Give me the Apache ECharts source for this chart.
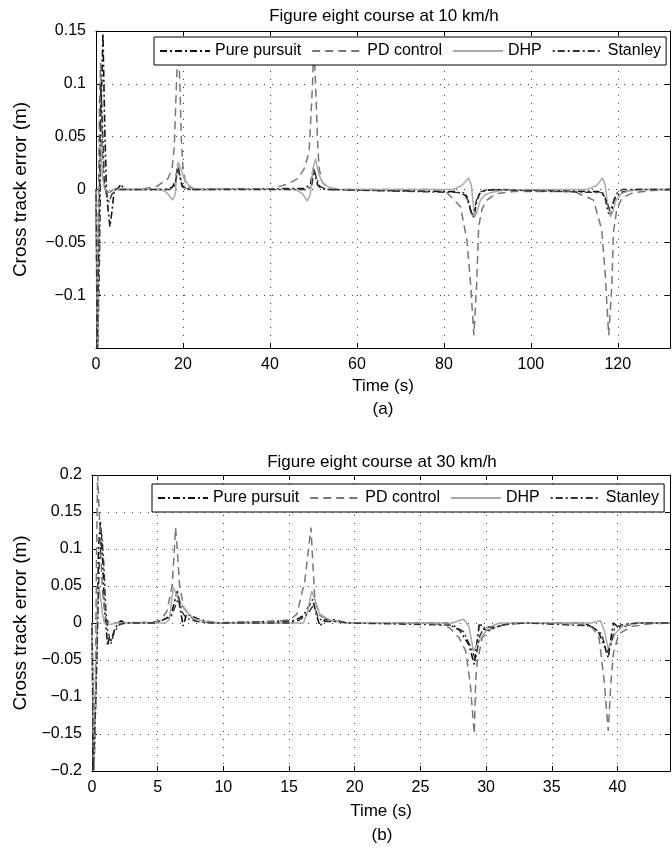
<!DOCTYPE html>
<html><head><meta charset="utf-8">
<script src="https://cdn.jsdelivr.net/npm/echarts@6/dist/echarts.min.js"></script>
<style>html,body{margin:0;padding:0;background:#fff}#c{width:672px;height:854px}</style>
</head><body><div id="c"></div>
<script>
// ---------- data ----------
const seriesNames = ['Pure pursuit', 'PD control', 'DHP', 'Stanley'];
const titleA = 'Figure eight course at 10 km/h';
const titleB = 'Figure eight course at 30 km/h';
const xNameText = 'Time (s)';
const yNameText = 'Cross track error (m)';
const captionA = '(a)';
const captionB = '(b)';

// axis ranges / tick steps
const xRangeA = [0, 132], xStepA = 20;
const yRangeA = [-0.15, 0.15], yStepA = 0.05;
const xRangeB = [0, 44], xStepB = 5;
const yRangeB = [-0.2, 0.2], yStepB = 0.05;

// (a) 10 km/h : [time s, error m]
const pureA = [[0,0],[0.4,-0.15],[0.8,-0.06],[1.2,0.08],[1.6,0.148],[2.0,0.06],[2.4,0],[2.8,-0.02],[3.2,-0.035],[3.7,-0.02],[4.2,0],[5.0,0.001],[5.8,0.005],[6.3,0.001],[7,0],[16,0],[17.5,0.002],[18.3,0.008],[18.8,0.024],[19.3,0.012],[19.8,0.003],[20.5,0.001],[22,0],[48,0.001],[49.3,0.005],[50,0.02],[50.5,0.012],[51,0.004],[51.8,0.001],[53,0],[83,-0.002],[85.2,-0.006],[86.3,-0.022],[86.9,-0.026],[87.5,-0.012],[88.2,-0.004],[89.5,-0.001],[92,0],[115.5,-0.002],[117,-0.006],[117.8,-0.022],[118.4,-0.024],[119.1,-0.01],[120.5,-0.003],[124,0],[132,0]];
const pdA = [[0,0],[0.25,-0.15],[0.5,-0.03],[0.8,0.08],[1.05,0.12],[1.3,0.07],[1.6,0.02],[2.0,0],[2.6,-0.003],[3.5,-0.002],[5,0],[10,0],[14,0.003],[16.5,0.01],[17.5,0.02],[18.0,0.04],[18.5,0.1],[18.9,0.14],[19.3,0.1],[19.6,0.05],[20.0,0.02],[20.6,0.006],[21.5,0.002],[23,0],[40,0.0005],[44,0.005],[46.3,0.01],[47.8,0.019],[49.0,0.035],[49.4,0.067],[49.8,0.1],[50.1,0.14],[50.5,0.1],[50.9,0.05],[51.3,0.02],[52,0.007],[53.2,0.002],[56,0],[78,0],[80.7,-0.003],[83.8,-0.016],[85.3,-0.048],[86.1,-0.087],[86.9,-0.138],[87.5,-0.093],[88.0,-0.035],[88.8,-0.018],[89.9,-0.01],[92,-0.004],[96,-0.002],[110,-0.002],[114.4,-0.01],[116.3,-0.038],[117.1,-0.08],[117.9,-0.138],[118.6,-0.093],[119.0,-0.04],[119.8,-0.018],[121,-0.008],[123.5,-0.003],[128,-0.001],[132,0]];
const dhpA = [[0,0],[0.4,-0.15],[0.7,-0.02],[1.0,0.045],[1.2,0.035],[1.5,0.012],[1.9,0.002],[2.5,-0.003],[3.2,-0.001],[4.5,0],[15,0],[16.3,-0.003],[17.6,-0.01],[18.2,-0.005],[18.6,0.015],[18.9,0.026],[19.5,0.02],[20.3,0.01],[21.3,0.004],[22.5,0.001],[25,0],[45.9,0],[47.5,-0.004],[48.6,-0.011],[49.3,-0.004],[49.9,0.02],[50.5,0.029],[51.2,0.015],[52,0.007],[53.2,0.003],[55,0],[82.2,0],[84.2,0.004],[85.7,0.011],[86.3,0.004],[86.7,-0.012],[87.1,-0.026],[87.7,-0.02],[88.4,-0.01],[89.5,-0.005],[90.7,-0.003],[93,-0.001],[100,0],[113,0],[115.2,0.004],[116.5,0.011],[117.1,0.004],[117.6,-0.012],[118.3,-0.026],[118.9,-0.02],[119.6,-0.01],[120.8,-0.004],[122,-0.002],[125,0],[132,0]];
const stanleyA = [[0,0],[0.3,-0.15],[0.7,-0.04],[1.1,0.1],[1.5,0.06],[1.9,0.01],[2.4,-0.005],[3.0,-0.012],[3.6,-0.005],[4.5,0],[17,0],[18.2,0.004],[18.7,0.02],[19.2,0.015],[19.8,0.004],[21,0],[48.5,0],[49.6,0.003],[50.2,0.018],[50.8,0.01],[51.5,0.003],[53,0],[84.5,-0.003],[85.8,-0.012],[86.5,-0.024],[87.0,-0.02],[87.6,-0.008],[88.5,-0.002],[90,0],[116.5,-0.003],[117.5,-0.012],[118.2,-0.02],[118.8,-0.014],[119.6,-0.004],[121,0],[132,0]];

// (b) 30 km/h : [time s, error m]
const pureB = [[0,0],[0.15,-0.2],[0.35,-0.05],[0.5,0.1],[0.63,0.138],[0.8,0.09],[0.95,0.02],[1.19,-0.031],[1.3,-0.02],[1.44,-0.024],[1.7,-0.01],[2.0,0],[2.2,0.003],[2.5,0],[4.5,0],[5.3,0.003],[6.0,0.01],[6.3,0.03],[6.5,0.043],[6.7,0.02],[6.94,-0.004],[7.2,0.012],[7.5,0.01],[8.3,0.004],[9.5,0],[15.4,0.003],[16.1,0.01],[16.8,0.032],[17.1,0.01],[17.35,-0.004],[17.7,0.004],[18.2,0.005],[19.5,0],[27,0],[28,-0.01],[28.7,-0.03],[29.1,-0.056],[29.35,-0.02],[29.5,0],[29.8,-0.008],[30.2,-0.01],[31,-0.004],[32,0],[37.5,0],[38.5,-0.01],[39.0,-0.03],[39.3,-0.047],[39.55,-0.015],[39.7,0],[40.1,-0.006],[40.6,-0.004],[41.5,0],[44,0]];
const pdB = [[0,0],[0.1,-0.2],[0.25,-0.1],[0.35,0.1],[0.43,0.2],[0.55,0.15],[0.7,0.08],[0.8,0.043],[1.06,0.005],[1.4,0],[4.5,0.001],[5.2,0.003],[5.7,0.016],[6.1,0.05],[6.24,0.09],[6.36,0.129],[6.5,0.097],[6.67,0.05],[7.0,0.02],[7.7,0.005],[8.5,0.001],[10,0],[14,0.002],[15.1,0.005],[15.6,0.012],[16.2,0.057],[16.67,0.129],[16.8,0.084],[16.97,0.03],[17.35,0.01],[18.2,0.003],[19.5,0],[26,0],[27.2,-0.006],[27.95,-0.02],[28.45,-0.038],[28.8,-0.083],[29.1,-0.15],[29.2,-0.083],[29.3,-0.056],[29.7,-0.02],[30.5,-0.006],[31.5,-0.002],[33,0],[37,-0.001],[38.05,-0.005],[38.6,-0.02],[39.0,-0.08],[39.3,-0.146],[39.5,-0.08],[39.7,-0.04],[40.1,-0.015],[41,-0.005],[42.5,-0.001],[44,0]];
const dhpB = [[0,0],[0.15,-0.2],[0.3,-0.08],[0.42,0.03],[0.5,0.052],[0.65,0.035],[0.8,0.012],[0.93,0],[1.3,-0.002],[2,0],[5.6,0],[5.9,0.005],[6.05,0.03],[6.2,0.048],[6.5,0.035],[7.0,0.019],[7.75,0.006],[8.5,0.002],[10,0],[16.1,0],[16.4,0.015],[16.72,0.043],[17.0,0.03],[17.35,0.012],[18.1,0.004],[19.5,0],[27.4,0],[28.3,0.005],[28.7,-0.005],[29.04,-0.038],[29.6,-0.02],[30.2,-0.006],[31,0],[38,0],[38.7,0.003],[39.0,-0.01],[39.3,-0.035],[39.8,-0.015],[40.4,-0.004],[41.5,0],[44,0]];
const stanleyB = [[0,0],[0.1,-0.2],[0.3,-0.1],[0.55,0.08],[0.75,0.12],[0.9,0.08],[1.05,0.02],[1.2,-0.01],[1.44,-0.028],[1.7,-0.012],[2.1,-0.002],[2.6,0],[4.8,0],[5.5,0.005],[6.0,0.008],[6.4,0.025],[6.6,0.035],[6.85,0.015],[7.2,0.006],[8,0.002],[9,0],[15,0],[15.8,0.004],[16.4,0.012],[16.9,0.025],[17.2,0.008],[17.6,0.002],[18.5,0.002],[19.5,0],[27.5,-0.003],[28.3,-0.012],[28.9,-0.035],[29.2,-0.05],[29.5,-0.018],[29.9,-0.005],[30.6,-0.006],[31.5,-0.002],[33,0],[38,-0.004],[38.8,-0.015],[39.2,-0.04],[39.5,-0.03],[39.8,-0.006],[40.4,-0.002],[41.5,0],[44,0]];

// ---------- styling ----------
const FONT = '"Liberation Sans", Arial, sans-serif';
const black = '#000';
const TICK_FS = 16, TITLE_FS = 17, XNAME_FS = 17, YNAME_FS = 19, LEG_FS = 16;
const seriesStyles = [
  { color: '#111', width: 1.6, type: [7, 3, 2, 3] },
  { color: '#777', width: 1.5, type: [8, 5] },
  { color: '#aaa', width: 1.5, type: 'solid' },
  { color: '#333', width: 1.4, type: [2, 3, 7, 3] }
];
const fmt = v => String(Math.round(v * 100) / 100).replace('-', '\u2212');

function mainX(gi, range, step, nameGap) {
  return {
    gridIndex: gi, type: 'value', min: range[0], max: range[1], interval: step,
    axisLine: { show: true, onZero: false, lineStyle: { color: black, width: 1 } },
    axisTick: { show: true, inside: true, length: 5, lineStyle: { color: black } },
    axisLabel: { color: black, fontSize: TICK_FS, fontFamily: FONT, margin: 9, showMaxLabel: false, formatter: fmt },
    splitLine: { show: true, lineStyle: { type: [1, 7], color: '#444', width: 1 } },
    name: xNameText, nameLocation: 'middle', nameGap: nameGap,
    nameTextStyle: { color: black, fontSize: XNAME_FS, fontFamily: FONT }
  };
}
function sideX(gi, range, step) {
  return {
    gridIndex: gi, type: 'value', position: 'top', min: range[0], max: range[1], interval: step,
    axisLine: { show: true, onZero: false, lineStyle: { color: black, width: 1 } },
    axisTick: { show: true, inside: true, length: 5, lineStyle: { color: black } },
    axisLabel: { show: false }, splitLine: { show: false }
  };
}
function mainY(gi, range, step, nameGap, showMin) {
  return {
    gridIndex: gi, type: 'value', min: range[0], max: range[1], interval: step,
    axisLine: { show: true, onZero: false, lineStyle: { color: black, width: 1 } },
    axisTick: { show: true, inside: true, length: 5, lineStyle: { color: black } },
    axisLabel: { color: black, fontSize: TICK_FS, fontFamily: FONT, margin: 10, showMinLabel: showMin, formatter: fmt },
    splitLine: { show: true, lineStyle: { type: [1, 7], color: '#444', width: 1 } },
    name: yNameText, nameLocation: 'middle', nameGap: nameGap,
    nameTextStyle: { color: black, fontSize: YNAME_FS, fontFamily: FONT }
  };
}
function sideY(gi, range, step) {
  return {
    gridIndex: gi, type: 'value', position: 'right', min: range[0], max: range[1], interval: step,
    axisLine: { show: true, onZero: false, lineStyle: { color: black, width: 1 } },
    axisTick: { show: true, inside: true, length: 5, lineStyle: { color: black } },
    axisLabel: { show: false }, splitLine: { show: false }
  };
}
function legendAt(left, top) {
  return {
    data: seriesNames, left: left, top: top, width: 600, orient: 'horizontal',
    backgroundColor: '#fff', borderColor: black, borderWidth: 1, borderRadius: 0,
    padding: [6, 5], itemGap: 10, itemWidth: 50, itemHeight: 14,
    textStyle: { color: black, fontSize: LEG_FS, fontFamily: FONT },
    itemStyle: { opacity: 0 }, selectedMode: false
  };
}
function mkSeries(data, i, xi, yi) {
  return {
    name: seriesNames[i], type: 'line', xAxisIndex: xi, yAxisIndex: yi, data: data,
    symbol: 'none', showSymbol: false, clip: true, animation: false,
    lineStyle: seriesStyles[i], itemStyle: { color: seriesStyles[i].color }
  };
}
function caption(text, x, y, fs) {
  return { type: 'text', x: x, y: y, style: { text: text, fill: black, fontSize: fs, fontFamily: FONT, align: 'center', verticalAlign: 'middle' } };
}

const chart = echarts.init(document.getElementById('c'), null, { renderer: 'canvas' });
chart.setOption({
  animation: false,
  backgroundColor: '#fff',
  textStyle: { fontFamily: FONT },
  grid: [
    { left: 96, top: 31, width: 574, height: 317, containLabel: false },
    { left: 92, top: 475, width: 578, height: 296, containLabel: false }
  ],
  xAxis: [mainX(0, xRangeA, xStepA, 30), sideX(0, xRangeA, xStepA), mainX(1, xRangeB, xStepB, 32), sideX(1, xRangeB, xStepB)],
  yAxis: [mainY(0, yRangeA, yStepA, 66, false), sideY(0, yRangeA, yStepA), mainY(1, yRangeB, yStepB, 62, true), sideY(1, yRangeB, yStepB)],
  legend: [legendAt(154, 37), legendAt(152, 484)],
  graphic: [
    caption(titleA, 384, 16, TITLE_FS),
    caption(titleB, 382, 462, TITLE_FS),
    caption(captionA, 383, 409, TITLE_FS),
    caption(captionB, 382, 835, TITLE_FS)
  ],
  series: [
    mkSeries(pureA, 0, 0, 0), mkSeries(pdA, 1, 0, 0), mkSeries(dhpA, 2, 0, 0), mkSeries(stanleyA, 3, 0, 0),
    mkSeries(pureB, 0, 2, 2), mkSeries(pdB, 1, 2, 2), mkSeries(dhpB, 2, 2, 2), mkSeries(stanleyB, 3, 2, 2)
  ]
});
</script></body></html>
